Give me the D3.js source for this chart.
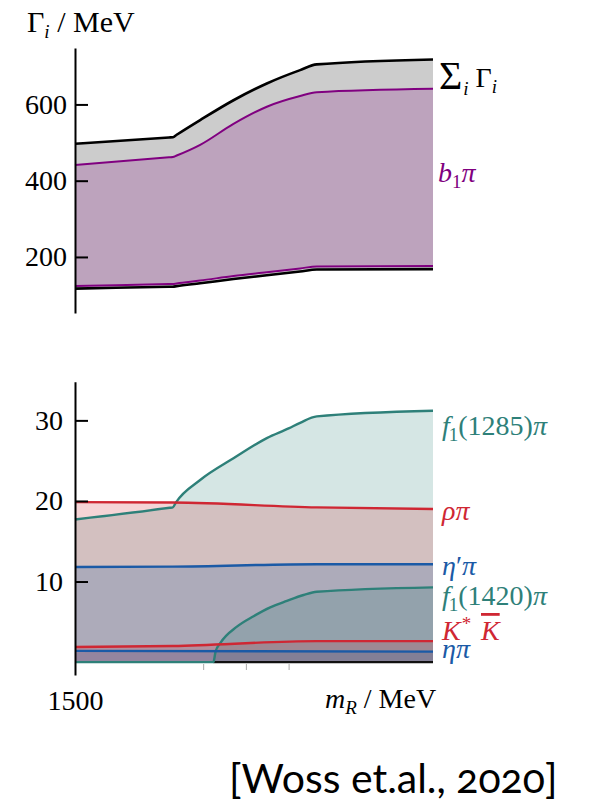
<!DOCTYPE html>
<html>
<head>
<meta charset="utf-8">
<script src="https://cdn.jsdelivr.net/npm/d3@7"></script>
<style>
  html, body { margin: 0; padding: 0; background: #fff; }
  svg { display: block; }
</style>
</head>
<body>
<svg id="chart" width="589" height="803"></svg>
<script>
// ---- Partial widths of the resonance vs. its mass m_R (MeV) ----

// Upper panel: total width band and b1 pi band (lower / upper edge)
const sumMass   = [1500, 1720, 1729, 1738, 1793, 1871, 1949, 2027, 2066, 2338];
const sumUpper  = [497, 513.3, 514, 520.5, 559, 611, 655, 690, 705, 718];
const sumLower  = [117, 121.8, 122, 123.5, 131, 142, 152, 162, 167, 168];
const b1piUpper = [441, 461.2, 462, 466, 494, 549, 594, 622, 632, 641];
const b1piLower = [124, 128.8, 129, 130.5, 138, 150, 160, 170, 175, 176];

// Lower panel: individual channels
const f1_1285Mass = [1500, 1722, 1729, 1736, 1793, 1871, 1949, 2000, 2027, 2066, 2338];
const f1_1285Vals = [17.7, 19.15, 19.2, 19.8, 22.6, 25.3, 27.8, 29.0, 29.7, 30.5, 31.2];
const rhoPiMass   = [1500, 1729, 2066, 2338];
const rhoPiVals   = [19.85, 19.8, 19.2, 19.0];
const etaPrMass   = [1500, 1729, 2066, 2338];
const etaPrVals   = [11.8, 11.85, 12.15, 12.15];
const f1_1420Mass = [1500, 1824, 1829, 1840, 1879, 1918, 1957, 1996, 2035, 2066, 2338];
const f1_1420Vals = [0, 0, 1.3, 2.35, 4.4, 5.7, 6.8, 7.6, 8.33, 8.74, 9.28];
const kstarKMass  = [1500, 1729, 2066, 2338];
const kstarKVals  = [1.87, 2.0, 2.6, 2.6];
const etaPiMass   = [1500, 2338];
const etaPiVals   = [1.4, 1.3];
const floorMass   = [1824, 2338];
const floorVals   = [0, 0];

// Axis ticks
const topTicks = [200, 400, 600];
const botTicks = [10, 20, 30];
const xTicks   = [1500, 1800, 1900, 2000];

// ---- Drawing ----
const SERIF = "'Liberation Serif', serif";
const svg = d3.select("#chart");

const x    = d3.scaleLinear().domain([1500, 2338]).range([75, 433]);
const yTop = d3.scaleLinear().domain([53, 748]).range([313, 48]);
const yBot = d3.scaleLinear().domain([-1.6, 34.8]).range([675, 381.7]);

const zip = (ms, vs) => ms.map((m, i) => ({ m, v: vs[i] }));
const band = (ms, lo, hi) => ms.map((m, i) => ({ m, lo: lo[i], hi: hi[i] }));
const curve = d3.curveMonotoneX;

// Upper panel bands
const bandArea = d3.area().curve(curve).x(d => x(d.m)).y0(d => yTop(d.lo)).y1(d => yTop(d.hi));
const topLine  = d3.line().curve(curve).x(d => x(d.m)).y(d => yTop(d.v));

const gTop = svg.append("g");
const topBands = [
  { data: band(sumMass, sumLower, sumUpper),   color: "#000000", lw: 2.6 },
  { data: band(sumMass, b1piLower, b1piUpper), color: "#800080", lw: 2.0 }
];
topBands.forEach(b => {
  gTop.append("path").datum(b.data).attr("d", bandArea)
    .attr("fill", b.color).attr("fill-opacity", 0.2);
});
topBands.forEach(b => {
  ["lo", "hi"].forEach(k => {
    gTop.append("path")
      .datum(b.data.map(d => ({ m: d.m, v: d[k] })))
      .attr("d", topLine)
      .attr("fill", "none").attr("stroke", b.color)
      .attr("stroke-width", b.lw).attr("stroke-linejoin", "round");
  });
});

// Lower panel channels
const TEAL = "#2e8079", RED = "#cf2733", BLUE = "#1b5aa6";
const channels = [
  { data: zip(f1_1285Mass, f1_1285Vals), color: TEAL },
  { data: zip(rhoPiMass, rhoPiVals),     color: RED },
  { data: zip(etaPrMass, etaPrVals),     color: BLUE },
  { data: zip(f1_1420Mass, f1_1420Vals), color: TEAL },
  { data: zip(kstarKMass, kstarKVals),   color: RED },
  { data: zip(etaPiMass, etaPiVals),     color: BLUE }
];
const chArea = d3.area().curve(curve).x(d => x(d.m)).y0(yBot(0)).y1(d => yBot(d.v));
const chLine = d3.line().curve(curve).x(d => x(d.m)).y(d => yBot(d.v));

const gBot = svg.append("g");
channels.forEach(c => {
  gBot.append("path").datum(c.data).attr("d", chArea)
    .attr("fill", c.color).attr("fill-opacity", 0.2);
});
gBot.append("path").datum(zip(floorMass, floorVals)).attr("d", chLine)
  .attr("fill", "none").attr("stroke", "#111").attr("stroke-width", 2.2);
channels.forEach(c => {
  gBot.append("path").datum(c.data).attr("d", chLine)
    .attr("fill", "none").attr("stroke", c.color)
    .attr("stroke-width", 2.4).attr("stroke-linejoin", "round");
});

// Axes
function styleAxis(g) {
  g.attr("font-family", null).attr("font-size", null);
  g.selectAll("text").attr("fill", "#000")
    .style("font-family", SERIF).style("font-size", "28px");
}
const xAxis = d3.axisBottom(x).tickValues(xTicks)
  .tickFormat(d => d === 1500 ? "1500" : "")
  .tickSizeInner(6).tickSizeOuter(0).tickPadding(20);
svg.append("g").attr("transform", "translate(0,664)").call(xAxis)
  .call(g => g.select(".domain").remove())
  .call(g => g.selectAll(".tick line").attr("stroke", "#aaa").attr("stroke-width", 1))
  .call(styleAxis);

const yAxisTop = d3.axisLeft(yTop).tickValues(topTicks)
  .tickSizeInner(-13).tickSizeOuter(0).tickPadding(8);
svg.append("g").attr("transform", "translate(75,0)").call(yAxisTop)
  .call(g => g.selectAll("line, path").attr("stroke", "#000").attr("stroke-width", 2))
  .call(styleAxis);

const yAxisBot = d3.axisLeft(yBot).tickValues(botTicks)
  .tickSizeInner(-13).tickSizeOuter(0).tickPadding(12);
svg.append("g").attr("transform", "translate(75,0)").call(yAxisBot)
  .call(g => g.selectAll("line, path").attr("stroke", "#000").attr("stroke-width", 2))
  .call(styleAxis);

// Math-style text built from tspans (dy = baseline offset in px)
function mathText(x0, y0, parts, color, size) {
  const t = svg.append("text").attr("x", x0).attr("y", y0)
    .style("font-family", SERIF).style("font-size", (size || 28) + "px")
    .attr("fill", color || "#000");
  let cur = 0;
  parts.forEach(p => {
    const off = p.dy || 0;
    const ts = t.append("tspan").attr("dy", off - cur).text(p.t);
    cur = off;
    if (p.it) ts.style("font-style", "italic");
    if (p.size) ts.style("font-size", p.size + "px");
    if (p.dx) ts.attr("dx", p.dx);
    if (p.x) ts.attr("x", p.x);
    if (p.over) ts.style("text-decoration", "overline");
  });
  return t;
}
const SUB = 6, SUBSZ = 19;

// Axis titles
mathText(27, 32, [
  { t: "Γ" }, { t: "i", it: true, dy: SUB, size: SUBSZ }, { t: " / MeV" }
], "#000", 30);
mathText(325, 708, [
  { t: "m", it: true }, { t: "R", it: true, dy: SUB, size: SUBSZ }, { t: " / MeV" }
], "#000", 28);

// Series labels
mathText(439, 87, [
  { t: "Σ", size: 40, dy: 2 }, { t: "i", it: true, dy: 8, size: SUBSZ, dx: 1 },
  { t: " Γ" }, { t: "i", it: true, dy: SUB, size: SUBSZ }
], "#000");
mathText(438, 182, [
  { t: "b", it: true }, { t: "1", dy: SUB, size: SUBSZ }, { t: "π", it: true }
], "#800080");
mathText(442, 435, [
  { t: "f", it: true }, { t: "1", dy: SUB, size: SUBSZ, dx: -1 }, { t: "(1285)" }, { t: "π", it: true }
], TEAL);
mathText(442, 520, [{ t: "ρπ", it: true }], RED);
mathText(442, 575, [
  { t: "η", it: true }, { t: "′" }, { t: "π", it: true }
], BLUE);
mathText(442, 605, [
  { t: "f", it: true }, { t: "1", dy: SUB, size: SUBSZ, dx: -1 }, { t: "(1420)" }, { t: "π", it: true }
], TEAL);
mathText(442, 640, [
  { t: "K", it: true }, { t: "*", dy: -10, size: SUBSZ, dx: 1 }, { t: "K", it: true, over: true, x: 481 }
], RED);
mathText(442, 658, [{ t: "ηπ", it: true }], BLUE);

// Citation
svg.append("text").attr("x", 229).attr("y", 793)
  .style("font-family", "Lato, 'Open Sans', sans-serif").style("font-size", "41px")
  .style("font-variant-numeric", "oldstyle-nums")
  .attr("fill", "#000")
  .text("[Woss et.al., 2020]");
</script>
</body>
</html>
